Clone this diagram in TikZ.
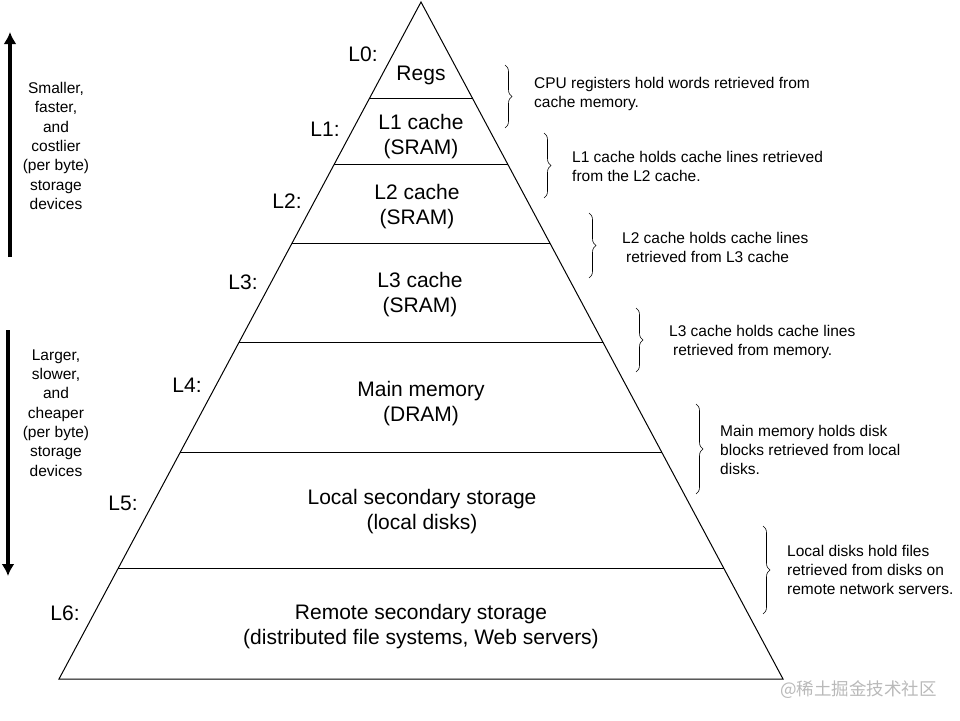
\documentclass[tikz,border=0pt]{standalone}
\usepackage{fontspec}
\setmainfont{Liberation Sans}
\newfontfamily\cjk{Noto Sans CJK SC}
\usepackage{tikz}
\usetikzlibrary{calc, arrows.meta, decorations.pathreplacing}
\tikzset{>=latex}
\tikzset{
  level/.style = {align = center, font = \fontsize{21}{25}\selectfont},
  lname/.style = {font = \fontsize{21}{25}\selectfont},
  note/.style = {align = left, anchor = west, inner sep = 0pt, font = \fontsize{15.5}{19}\selectfont},
  side/.style = {align = center, font = \fontsize{15.5}{19.3}\selectfont},
  brc/.style = {decorate, decoration = {brace, amplitude = 7pt}, line width = 0.6pt},
  bigarrow/.style = {line width = 4pt, -{Latex[length = 12pt, width = 13pt]}}
}

\begin{document}
\begin{tikzpicture}[x = 1pt, y = -1pt]
\useasboundingbox (0,0) rectangle (960,720);
% pyramid
\coordinate (top) at (421,2);
\coordinate (bl) at (59,679);
\coordinate (br) at (783,679);
\draw[line width = 1pt] (top) -- (bl) -- (br) -- cycle;
\foreach \y [evaluate = \y as \t using (\y-2)/677] in {98,165,244,342,452,568}
  \draw[line width = 1pt] ($(top)!\t!(bl)$) -- ($(top)!\t!(br)$);
% levels
\node[level] (regs) at (421,75) {Regs};
\node[level] (lone) at (421,137) {L1 cache\\ (SRAM)};
\node[level] (ltwo) at (417,207) {L2 cache\\ (SRAM)};
\node[level] (lthree) at (420,295) {L3 cache\\ (SRAM)};
\node[level] (mainmem) at (421,404) {Main memory\\(DRAM)};
\node[level] (localst) at (422,512) {Local secondary storage\\(local disks)};
\node[level] (remotest) at (421,627) {Remote secondary storage\\(distributed file systems, Web servers)};
\node[lname] (nzero) at (363,54) {L0:};
\node[lname] (none) at (325,129) {L1:};
\node[lname] (ntwo) at (287,201) {L2:};
\node[lname] (nthree) at (243,282) {L3:};
\node[lname] (nfour) at (187,385) {L4:};
\node[lname] (nfive) at (123,503) {L5:};
\node[lname] (nsix) at (65,613) {L6:};
% left side
\node[side] (smaller) at (56,146) {Smaller,\\faster,\\and\\costlier\\(per byte)\\storage\\devices};
\node[side] (larger) at (56,413) {Larger,\\slower,\\and\\cheaper\\(per byte)\\storage\\devices};
\coordinate (upfrom) at (10,257);
\coordinate (upto) at (10,32);
\coordinate (downfrom) at (8,330);
\coordinate (downto) at (8,576);
\draw[bigarrow] (upfrom) -- (upto);
\draw[bigarrow] (downfrom) -- (downto);
% right side
\draw[brc] (505,65) -- (505,128);
\draw[brc] (544,133) -- (544,198);
\draw[brc] (589,213) -- (589,278);
\draw[brc] (636,308) -- (636,372);
\draw[brc] (696,404) -- (696,494);
\draw[brc] (763,526) -- (763,614);
\node[note] (cpunote) at (534,94) {CPU registers hold words retrieved from\\cache memory.};
\node[note] (lonenote) at (572,166) {L1 cache holds cache lines retrieved\\from the L2 cache.};
\node[note] (ltwonote) at (622,247) {L2 cache holds cache lines\\\hspace*{4pt}retrieved from L3 cache};
\node[note] (lthreenote) at (669,342) {L3 cache holds cache lines\\\hspace*{4pt}retrieved from memory.};
\node[note] (memnote) at (720,449.5) {Main memory holds disk\\blocks retrieved from local\\disks.};
\node[note] (disknote) at (787,569.5) {Local disks hold files\\retrieved from disks on\\remote network servers.};
\node[anchor = west, inner sep = 0pt, text = gray!55, font = \cjk\fontsize{17.5}{20}\selectfont] (mark) at (780,690) {@稀土掘金技术社区};
\end{tikzpicture}
\end{document}
